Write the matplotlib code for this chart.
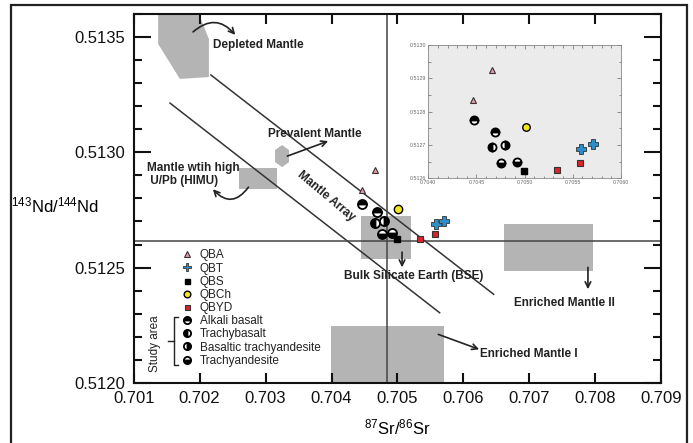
import matplotlib
matplotlib.use('Agg')
import matplotlib.pyplot as plt
from matplotlib.patches import Polygon, Rectangle
from matplotlib.lines import Line2D
from matplotlib.ticker import MultipleLocator, FormatStrFormatter

plt.rcParams['font.family'] = ['Liberation Sans', 'DejaVu Sans']
plt.rcParams['mathtext.fontset'] = 'custom'
plt.rcParams['mathtext.rm'] = 'Liberation Sans'
plt.rcParams['mathtext.it'] = 'Liberation Sans:italic'

# samples (87Sr/86Sr, 143Nd/144Nd)
qba_x = [0.70466, 0.70446]
qba_y = [0.512925, 0.512835]
qbt_x = [0.70559, 0.70571]
qbt_y = [0.512688, 0.512703]
qbs_x = [0.70499]
qbs_y = [0.512622]
qbch_x = [0.70501]
qbch_y = [0.512753]
qbyd_x = [0.70534, 0.70557]
qbyd_y = [0.512625, 0.512647]
alkali_x = [0.70447, 0.70469]
alkali_y = [0.512775, 0.512740]
trachybas_x = [0.70466]
trachybas_y = [0.512693]
bastra_x = [0.70480]
bastra_y = [0.512700]
trachyand_x = [0.70476, 0.70492]
trachyand_y = [0.512647, 0.512650]

# bulk silicate earth reference values
bse_sr = 0.70484
bse_nd = 0.512615

# mantle array bounding lines
array_up_x = [0.70217, 0.70646]
array_up_y = [0.513336, 0.512384]
array_lo_x = [0.70155, 0.70564]
array_lo_y = [0.513214, 0.512304]

# mantle reservoir fields
dm_field = [(0.70137, 0.51362), (0.70196, 0.51362), (0.70214, 0.513492),
            (0.70214, 0.513327), (0.70170, 0.513319), (0.70137, 0.513471)]
pm_field = [(0.70325, 0.513032), (0.703356, 0.513010), (0.703356, 0.512958),
            (0.70325, 0.512936), (0.703143, 0.512958), (0.703143, 0.513010)]
himu_field = [0.70260, 0.70318, 0.512840, 0.512932]
bse_field = [0.70445, 0.70521, 0.512539, 0.512724]
em2_field = [0.70662, 0.70796, 0.512485, 0.512691]
em1_field = [0.70399, 0.70571, 0.5119, 0.512246]

grey = '#b4b4b4'
txt = '#222222'

fig = plt.figure(figsize=(6.93, 4.43), dpi=100)
ax = fig.add_axes([0.193, 0.136, 0.761, 0.832])


def draw_samples(a, small=False):
    k = 0.9 if small else 1.0
    a.plot(qba_x, qba_y, ls='none', marker='^', ms=5 * k, mfc='#e99aa5', mec='#333333',
           mew=0.8, label='QBA', zorder=5)
    a.plot(qbt_x, qbt_y, ls='none', marker='P', ms=7.5 * k, mfc='#2a8fca', mec='#333333',
           mew=0.6, label='QBT', zorder=5)
    a.plot(qbs_x, qbs_y, ls='none', marker='s', ms=4.5 * k, mfc='black', mec='black',
           label='QBS', zorder=5)
    a.plot(qbch_x, qbch_y, ls='none', marker='o', ms=6 * k, mfc='#f4e81c', mec='black',
           mew=1.0, label='QBCh', zorder=5)
    a.plot(qbyd_x, qbyd_y, ls='none', marker='s', ms=4.5 * k, mfc='#d9242a', mec='#333333',
           mew=0.8, label='QBYD', zorder=5)
    for xs, ys, fs, lab in [(alkali_x, alkali_y, 'top', 'Alkali basalt'),
                            (trachybas_x, trachybas_y, 'left', 'Trachybasalt'),
                            (bastra_x, bastra_y, 'right', 'Basaltic trachyandesite'),
                            (trachyand_x, trachyand_y, 'bottom', 'Trachyandesite')]:
        a.plot(xs, ys, ls='none', marker='o', ms=6.5 * k, fillstyle=fs, mfc='black',
               mfcalt='white', mec='black', mew=1.3, label=lab, zorder=5)


# reservoir fields
ax.add_patch(Polygon(dm_field, closed=True, fc=grey, ec='none', zorder=1))
ax.add_patch(Polygon(pm_field, closed=True, fc=grey, ec='none', zorder=1))
for f in [himu_field, bse_field, em2_field, em1_field]:
    ax.add_patch(Rectangle((f[0], f[2]), f[1] - f[0], f[3] - f[2], fc=grey, ec='none', zorder=1))

ax.plot(array_up_x, array_up_y, color='#333333', lw=1.1, zorder=2)
ax.plot(array_lo_x, array_lo_y, color='#333333', lw=1.1, zorder=2)
ax.axvline(bse_sr, color='#444444', lw=1.1, zorder=2)
ax.axhline(bse_nd, color='#444444', lw=1.1, zorder=2)

draw_samples(ax)

ax.set_xlim(0.701, 0.709)
ax.set_ylim(0.5120, 0.5136)
ax.xaxis.set_major_locator(MultipleLocator(0.001))
ax.yaxis.set_major_locator(MultipleLocator(0.0005))
ax.yaxis.set_minor_locator(MultipleLocator(0.0001))
ax.xaxis.set_major_formatter(FormatStrFormatter('%.3f'))
ax.yaxis.set_major_formatter(FormatStrFormatter('%.4f'))
ax.tick_params(axis='both', which='both', direction='in', top=True, right=True,
               labelsize=12, colors='#111111', width=1.5, pad=6)
ax.tick_params(axis='x', which='major', length=7)
ax.tick_params(axis='y', which='major', length=12)
ax.tick_params(axis='y', which='minor', length=6)
for s in ax.spines.values():
    s.set_linewidth(1.5)
    s.set_color('#111111')

ax.set_xlabel(r'$^{87}$Sr/$^{86}$Sr', fontsize=12, labelpad=8)
fig.text(0.08, 0.537, r'$^{143}$Nd/$^{144}$Nd', fontsize=12, ha='center', va='center')

# labels and arrows
bold = dict(fontsize=8.5, fontweight='bold', color=txt)
arrow = dict(arrowstyle='->', color='#222222', lw=1.2, shrinkA=0, shrinkB=0)
ax.text(0.70220, 0.513467, 'Depleted Mantle', ha='left', va='center', **bold)
ax.annotate('', xy=(0.70254, 0.51351), xytext=(0.70190, 0.513523),
            arrowprops=dict(arrow, connectionstyle='arc3,rad=-0.5'))
ax.text(0.70304, 0.51308, 'Prevalent Mantle', ha='left', va='center', **bold)
ax.annotate('', xy=(0.70395, 0.513049), xytext=(0.70333, 0.512984), arrowprops=arrow)
ax.text(0.70120, 0.512905, 'Mantle wtih high\n U/Pb (HIMU)', ha='left', va='center',
        linespacing=1.1, **bold)
ax.annotate('', xy=(0.70220, 0.51284), xytext=(0.70274, 0.512849),
            arrowprops=dict(arrow, connectionstyle='arc3,rad=-0.6'))
ax.text(0.70392, 0.51281, 'Mantle Array', ha='center', va='center', rotation=-40,
        rotation_mode='anchor', **bold)
ax.text(0.70524, 0.512462, 'Bulk Silicate Earth (BSE)', ha='center', va='center', **bold)
ax.annotate('', xy=(0.70507, 0.512501), xytext=(0.70507, 0.512567), arrowprops=arrow)
ax.text(0.70754, 0.512345, 'Enriched Mantle II', ha='center', va='center', **bold)
ax.annotate('', xy=(0.70789, 0.512406), xytext=(0.70789, 0.512501), arrowprops=arrow)
ax.text(0.70700, 0.512123, 'Enriched Mantle I', ha='center', va='center', **bold)
ax.annotate('', xy=(0.70624, 0.512145), xytext=(0.70562, 0.51221), arrowprops=arrow)

# legend
leg = ax.legend(loc='upper left', bbox_to_anchor=(0.089, 0.362), frameon=False,
                fontsize=8.5, handlelength=1.0, handletextpad=0.6, labelspacing=0.1,
                borderpad=0, borderaxespad=0, numpoints=1, markerscale=0.8)
for t in leg.get_texts():
    t.set_color(txt)

# "Study area" bracket
br = dict(color='#222222', lw=1.0, transform=ax.transAxes, clip_on=False)
ax.add_line(Line2D([0.084, 0.0764, 0.0764, 0.084], [0.178, 0.178, 0.048, 0.048], **br))
ax.add_line(Line2D([0.065, 0.0764], [0.113, 0.113], **br))
ax.text(0.040, 0.105, 'Study area', rotation=90, ha='center', va='center',
        fontsize=8.5, color=txt, transform=ax.transAxes)

# inset
axi = fig.add_axes([0.618, 0.5975, 0.278, 0.301])
axi.set_facecolor('#ebebeb')
draw_samples(axi, small=True)
axi.set_xlim(0.7040, 0.7060)
axi.set_ylim(0.5126, 0.5130)
axi.xaxis.set_major_locator(MultipleLocator(0.0005))
axi.xaxis.set_minor_locator(MultipleLocator(0.0001))
axi.yaxis.set_major_locator(MultipleLocator(0.0001))
axi.yaxis.set_minor_locator(MultipleLocator(0.00005))
axi.xaxis.set_major_formatter(FormatStrFormatter('%.4f'))
axi.yaxis.set_major_formatter(FormatStrFormatter('%.4f'))
axi.tick_params(axis='both', which='both', direction='in', top=True, right=True,
                labelsize=3.8, colors='#666666', width=0.5, pad=1.5)
axi.tick_params(which='major', length=3)
axi.tick_params(which='minor', length=1.8)
for s in axi.spines.values():
    s.set_linewidth(0.6)
    s.set_color('#888888')

# outer frame
fig.add_artist(Rectangle((11 / 693, -0.05), 676 / 693, 1.05 - 5 / 443, fill=False,
                         ec='#222222', lw=1.6, transform=fig.transFigure))

fig.savefig('out.png', dpi=100)
